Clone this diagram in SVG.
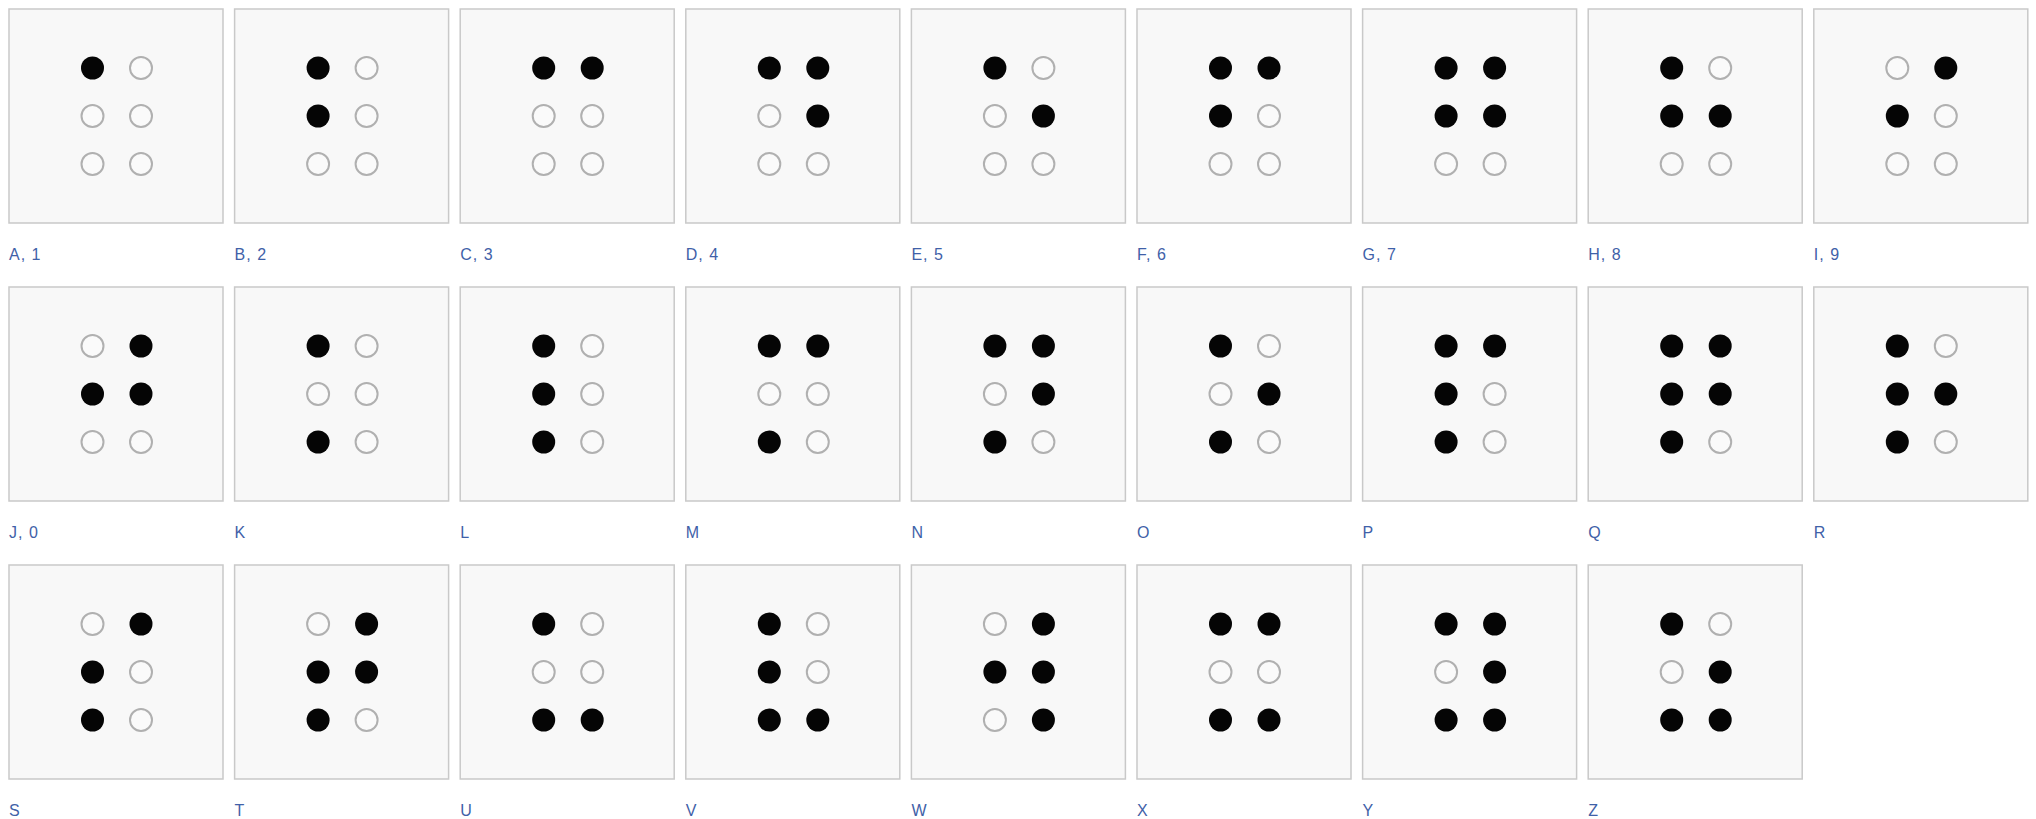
<svg xmlns="http://www.w3.org/2000/svg" xmlns:xlink="http://www.w3.org/1999/xlink" width="2036" height="819" viewBox="0 0 2036 819">
<style>
.tile{fill:#f8f8f8;stroke:#c9c9c9;stroke-width:1.5}
.on{fill:#050505}
.off{fill:#fafafa;stroke:#b0b0b0;stroke-width:2}
.lbl{font-family:"Liberation Sans",Arial,sans-serif;font-size:16px;letter-spacing:1px;fill:#3f61a8}
</style>
<defs>
<rect id="box" class="tile" x="0" y="0" width="214" height="214"/>
<circle id="d1" cx="83.5" cy="59" r="11.5"/>
<circle id="d2" cx="83.5" cy="107" r="11.5"/>
<circle id="d3" cx="83.5" cy="155" r="11.5"/>
<circle id="d4" cx="132" cy="59" r="11.5"/>
<circle id="d5" cx="132" cy="107" r="11.5"/>
<circle id="d6" cx="132" cy="155" r="11.5"/>
<circle id="e1" cx="83.5" cy="59" r="11"/>
<circle id="e2" cx="83.5" cy="107" r="11"/>
<circle id="e3" cx="83.5" cy="155" r="11"/>
<circle id="e4" cx="132" cy="59" r="11"/>
<circle id="e5" cx="132" cy="107" r="11"/>
<circle id="e6" cx="132" cy="155" r="11"/>
</defs>
<rect width="2036" height="819" fill="#ffffff"/>

<g id="A" transform="translate(9,9)"><use href="#box"/><use href="#d1" class="on"/><use href="#e2" class="off"/><use href="#e3" class="off"/><use href="#e4" class="off"/><use href="#e5" class="off"/><use href="#e6" class="off"/><text class="lbl" x="0" y="251">A, 1</text></g>
<g id="B" transform="translate(234.6,9)"><use href="#box"/><use href="#d1" class="on"/><use href="#d2" class="on"/><use href="#e3" class="off"/><use href="#e4" class="off"/><use href="#e5" class="off"/><use href="#e6" class="off"/><text class="lbl" x="0" y="251">B, 2</text></g>
<g id="C" transform="translate(460.2,9)"><use href="#box"/><use href="#d1" class="on"/><use href="#e2" class="off"/><use href="#e3" class="off"/><use href="#d4" class="on"/><use href="#e5" class="off"/><use href="#e6" class="off"/><text class="lbl" x="0" y="251">C, 3</text></g>
<g id="D" transform="translate(685.8,9)"><use href="#box"/><use href="#d1" class="on"/><use href="#e2" class="off"/><use href="#e3" class="off"/><use href="#d4" class="on"/><use href="#d5" class="on"/><use href="#e6" class="off"/><text class="lbl" x="0" y="251">D, 4</text></g>
<g id="E" transform="translate(911.4,9)"><use href="#box"/><use href="#d1" class="on"/><use href="#e2" class="off"/><use href="#e3" class="off"/><use href="#e4" class="off"/><use href="#d5" class="on"/><use href="#e6" class="off"/><text class="lbl" x="0" y="251">E, 5</text></g>
<g id="F" transform="translate(1137,9)"><use href="#box"/><use href="#d1" class="on"/><use href="#d2" class="on"/><use href="#e3" class="off"/><use href="#d4" class="on"/><use href="#e5" class="off"/><use href="#e6" class="off"/><text class="lbl" x="0" y="251">F, 6</text></g>
<g id="G" transform="translate(1362.6,9)"><use href="#box"/><use href="#d1" class="on"/><use href="#d2" class="on"/><use href="#e3" class="off"/><use href="#d4" class="on"/><use href="#d5" class="on"/><use href="#e6" class="off"/><text class="lbl" x="0" y="251">G, 7</text></g>
<g id="H" transform="translate(1588.2,9)"><use href="#box"/><use href="#d1" class="on"/><use href="#d2" class="on"/><use href="#e3" class="off"/><use href="#e4" class="off"/><use href="#d5" class="on"/><use href="#e6" class="off"/><text class="lbl" x="0" y="251">H, 8</text></g>
<g id="I" transform="translate(1813.8,9)"><use href="#box"/><use href="#e1" class="off"/><use href="#d2" class="on"/><use href="#e3" class="off"/><use href="#d4" class="on"/><use href="#e5" class="off"/><use href="#e6" class="off"/><text class="lbl" x="0" y="251">I, 9</text></g>

<g id="J" transform="translate(9,287)"><use href="#box"/><use href="#e1" class="off"/><use href="#d2" class="on"/><use href="#e3" class="off"/><use href="#d4" class="on"/><use href="#d5" class="on"/><use href="#e6" class="off"/><text class="lbl" x="0" y="251">J, 0</text></g>
<g id="K" transform="translate(234.6,287)"><use href="#box"/><use href="#d1" class="on"/><use href="#e2" class="off"/><use href="#d3" class="on"/><use href="#e4" class="off"/><use href="#e5" class="off"/><use href="#e6" class="off"/><text class="lbl" x="0" y="251">K</text></g>
<g id="L" transform="translate(460.2,287)"><use href="#box"/><use href="#d1" class="on"/><use href="#d2" class="on"/><use href="#d3" class="on"/><use href="#e4" class="off"/><use href="#e5" class="off"/><use href="#e6" class="off"/><text class="lbl" x="0" y="251">L</text></g>
<g id="M" transform="translate(685.8,287)"><use href="#box"/><use href="#d1" class="on"/><use href="#e2" class="off"/><use href="#d3" class="on"/><use href="#d4" class="on"/><use href="#e5" class="off"/><use href="#e6" class="off"/><text class="lbl" x="0" y="251">M</text></g>
<g id="N" transform="translate(911.4,287)"><use href="#box"/><use href="#d1" class="on"/><use href="#e2" class="off"/><use href="#d3" class="on"/><use href="#d4" class="on"/><use href="#d5" class="on"/><use href="#e6" class="off"/><text class="lbl" x="0" y="251">N</text></g>
<g id="O" transform="translate(1137,287)"><use href="#box"/><use href="#d1" class="on"/><use href="#e2" class="off"/><use href="#d3" class="on"/><use href="#e4" class="off"/><use href="#d5" class="on"/><use href="#e6" class="off"/><text class="lbl" x="0" y="251">O</text></g>
<g id="P" transform="translate(1362.6,287)"><use href="#box"/><use href="#d1" class="on"/><use href="#d2" class="on"/><use href="#d3" class="on"/><use href="#d4" class="on"/><use href="#e5" class="off"/><use href="#e6" class="off"/><text class="lbl" x="0" y="251">P</text></g>
<g id="Q" transform="translate(1588.2,287)"><use href="#box"/><use href="#d1" class="on"/><use href="#d2" class="on"/><use href="#d3" class="on"/><use href="#d4" class="on"/><use href="#d5" class="on"/><use href="#e6" class="off"/><text class="lbl" x="0" y="251">Q</text></g>
<g id="R" transform="translate(1813.8,287)"><use href="#box"/><use href="#d1" class="on"/><use href="#d2" class="on"/><use href="#d3" class="on"/><use href="#e4" class="off"/><use href="#d5" class="on"/><use href="#e6" class="off"/><text class="lbl" x="0" y="251">R</text></g>

<g id="S" transform="translate(9,565)"><use href="#box"/><use href="#e1" class="off"/><use href="#d2" class="on"/><use href="#d3" class="on"/><use href="#d4" class="on"/><use href="#e5" class="off"/><use href="#e6" class="off"/><text class="lbl" x="0" y="251">S</text></g>
<g id="T" transform="translate(234.6,565)"><use href="#box"/><use href="#e1" class="off"/><use href="#d2" class="on"/><use href="#d3" class="on"/><use href="#d4" class="on"/><use href="#d5" class="on"/><use href="#e6" class="off"/><text class="lbl" x="0" y="251">T</text></g>
<g id="U" transform="translate(460.2,565)"><use href="#box"/><use href="#d1" class="on"/><use href="#e2" class="off"/><use href="#d3" class="on"/><use href="#e4" class="off"/><use href="#e5" class="off"/><use href="#d6" class="on"/><text class="lbl" x="0" y="251">U</text></g>
<g id="V" transform="translate(685.8,565)"><use href="#box"/><use href="#d1" class="on"/><use href="#d2" class="on"/><use href="#d3" class="on"/><use href="#e4" class="off"/><use href="#e5" class="off"/><use href="#d6" class="on"/><text class="lbl" x="0" y="251">V</text></g>
<g id="W" transform="translate(911.4,565)"><use href="#box"/><use href="#e1" class="off"/><use href="#d2" class="on"/><use href="#e3" class="off"/><use href="#d4" class="on"/><use href="#d5" class="on"/><use href="#d6" class="on"/><text class="lbl" x="0" y="251">W</text></g>
<g id="X" transform="translate(1137,565)"><use href="#box"/><use href="#d1" class="on"/><use href="#e2" class="off"/><use href="#d3" class="on"/><use href="#d4" class="on"/><use href="#e5" class="off"/><use href="#d6" class="on"/><text class="lbl" x="0" y="251">X</text></g>
<g id="Y" transform="translate(1362.6,565)"><use href="#box"/><use href="#d1" class="on"/><use href="#e2" class="off"/><use href="#d3" class="on"/><use href="#d4" class="on"/><use href="#d5" class="on"/><use href="#d6" class="on"/><text class="lbl" x="0" y="251">Y</text></g>
<g id="Z" transform="translate(1588.2,565)"><use href="#box"/><use href="#d1" class="on"/><use href="#e2" class="off"/><use href="#d3" class="on"/><use href="#e4" class="off"/><use href="#d5" class="on"/><use href="#d6" class="on"/><text class="lbl" x="0" y="251">Z</text></g>
</svg>
